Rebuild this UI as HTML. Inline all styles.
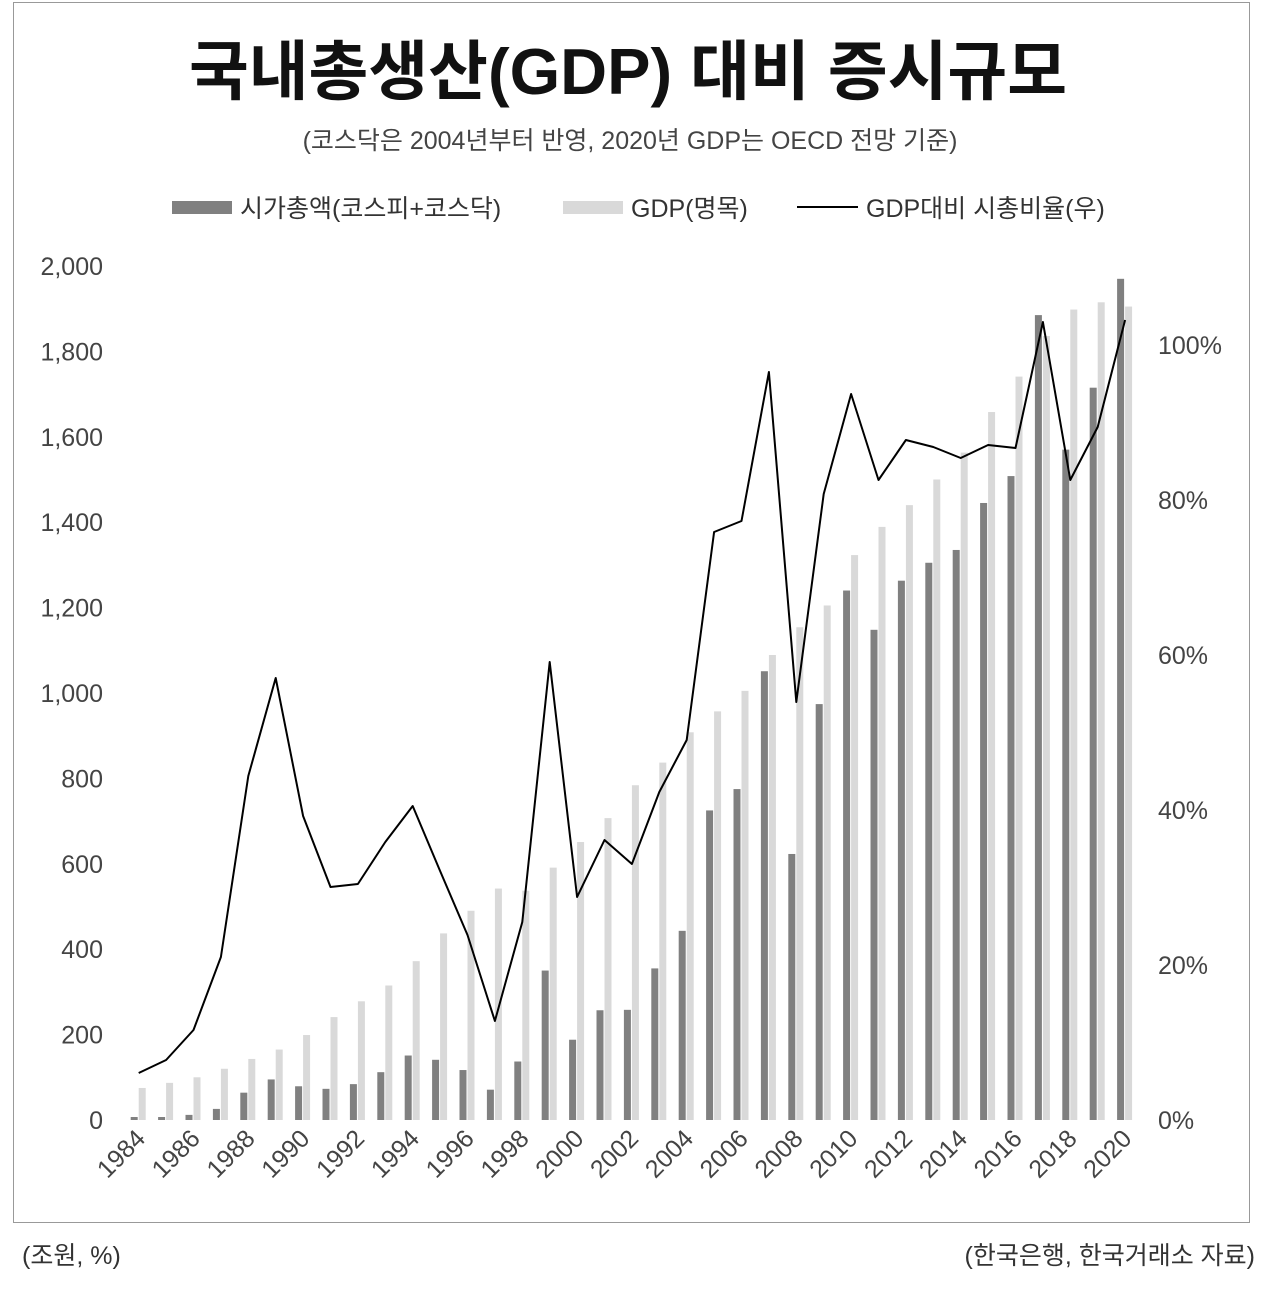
<!DOCTYPE html>
<html><head><meta charset="utf-8">
<style>
body{margin:0;background:#fff;width:1280px;height:1289px;overflow:hidden;font-family:"Liberation Sans","Noto Sans CJK KR",sans-serif;}
</style></head><body>
<svg width="1280" height="1289" xmlns="http://www.w3.org/2000/svg" font-family="Liberation Sans, Noto Sans CJK KR, sans-serif">
<rect x="13.5" y="2.5" width="1236" height="1220" fill="#fff" stroke="#999" stroke-width="1"/>
<text x="628" y="94" font-size="65" font-weight="bold" text-anchor="middle" fill="#111">국내총생산(GDP) 대비 증시규모</text>
<text x="630" y="149" font-size="25" text-anchor="middle" fill="#444">(코스닥은 2004년부터 반영, 2020년 GDP는 OECD 전망 기준)</text>
<rect x="172" y="201" width="60" height="13" fill="#808080"/>
<text x="240" y="217" font-size="25" fill="#333">시가총액(코스피+코스닥)</text>
<rect x="563" y="201" width="60" height="13" fill="#d9d9d9"/>
<text x="631" y="217" font-size="25" fill="#333">GDP(명목)</text>
<line x1="797" y1="207" x2="858" y2="207" stroke="#000" stroke-width="2"/>
<text x="866" y="217" font-size="25" fill="#333">GDP대비 시총비율(우)</text>
<g font-size="25" fill="#444" text-anchor="end" id="yl"></g>
<g font-size="25" fill="#444" id="yr"></g>
<g id="bars"></g>
<polyline id="ln" fill="none" stroke="#000" stroke-width="2" stroke-linejoin="round"/>
<g font-size="25" fill="#444" id="xl"></g>
<text x="22" y="1264" font-size="25" fill="#333">(조원, %)</text>
<text x="1255" y="1264" font-size="25" fill="#333" text-anchor="end">(한국은행, 한국거래소 자료)</text>
</svg>
<script>
var ns="http://www.w3.org/2000/svg";
function el(t,a,p,txt){var e=document.createElementNS(ns,t);for(var k in a)e.setAttribute(k,a[k]);if(txt!=null)e.textContent=txt;document.getElementById(p).appendChild(e);return e;}
for(var v=0;v<=2000;v+=200){var y=1120-v*0.427;el('text',{x:103,y:y+9},'yl',v.toLocaleString('en-US'));}
for(var r=0;r<=100;r+=20){var y=1120-r*7.75;el('text',{x:1158,y:y+9},'yr',r+'%');}
var mc=[7,7,12,26,64,95,79,73,84,112,151,141,117,71,137,350,188,257,258,355,443,725,775,1051,623,974,1240,1148,1263,1305,1335,1445,1508,1885,1570,1715,1970];
var gdp=[75,87,100,120,143,165,199,241,278,315,372,437,490,542,537,591,651,707,784,837,908,957,1005,1089,1154,1205,1323,1389,1440,1500,1563,1658,1741,1836,1898,1915,1905];
var ly=[1073,1060,1030,957,776,678,816,887,884,842,806,871,935,1021,922,662,897,840,864,792,740,532,521,372,702,494,394,480,440,447,458,445,448,322,480,427,320];
var pts=[];
for(var i=0;i<37;i++){var c=125+27.4*(i+0.5);
var h=mc[i]*0.427;el('rect',{x:c-8,y:1120-h,width:7,height:h,fill:'#808080'},'bars');
var g=gdp[i]*0.427;el('rect',{x:c,y:1120-g,width:7,height:g,fill:'#d9d9d9'},'bars');
pts.push(c.toFixed(1)+','+ly[i]);
if(i%2==0){el('text',{x:c+8,y:1140,transform:'rotate(-45 '+(c+8)+' 1140)','text-anchor':'end'},'xl',1984+i);}
}
document.getElementById('ln').setAttribute('points',pts.join(' '));
</script>
</body></html>
